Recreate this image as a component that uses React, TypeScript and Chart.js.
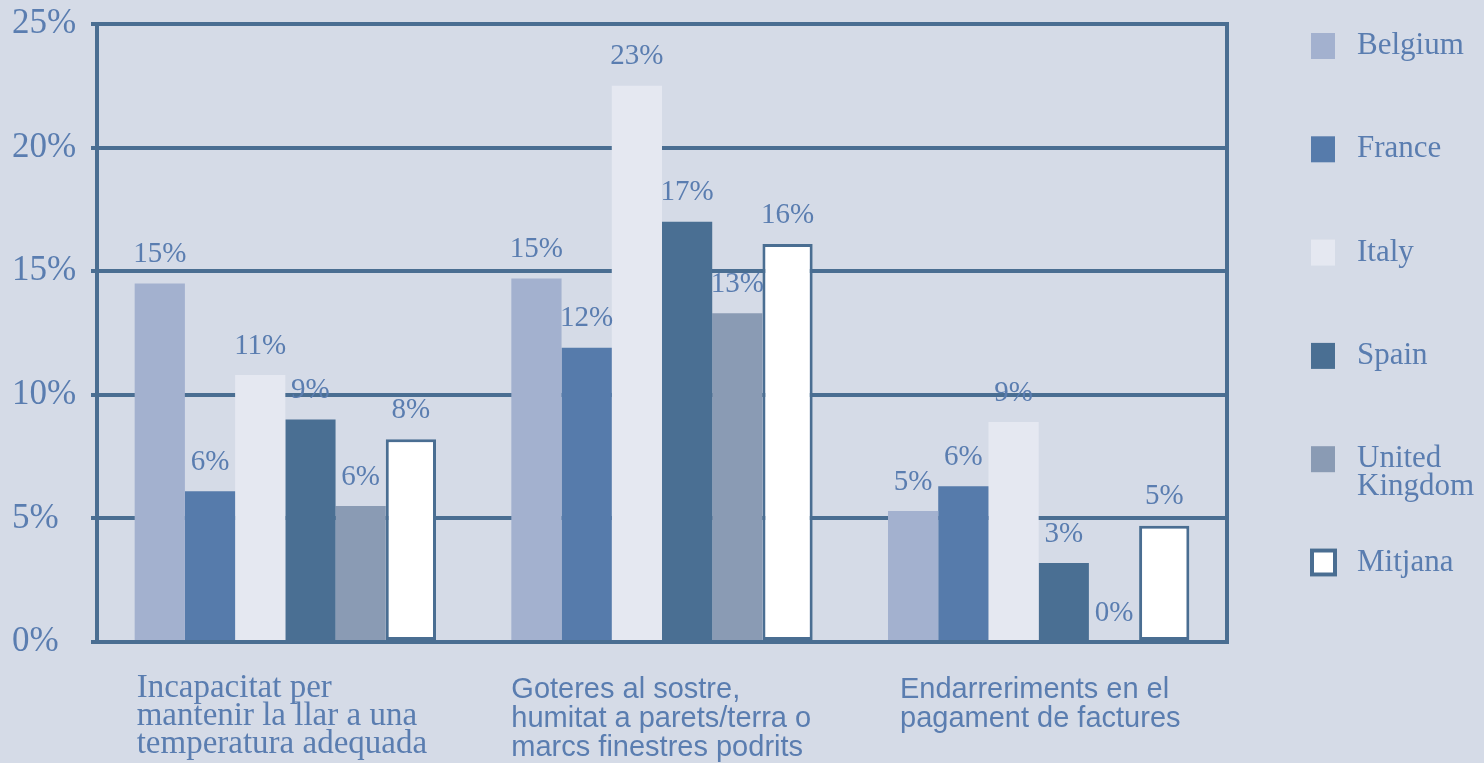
import React, { useEffect, useRef } from "react";
import { Chart, registerables } from "chart.js";

Chart.register(...registerables);

const categories: string[][] = [
  ["Incapacitat per", "mantenir la llar a una", "temperatura adequada"],
  ["Goteres al sostre,", "humitat a parets/terra o", "marcs finestres podrits"],
  ["Endarreriments en el", "pagament de factures"],
];
const seriesNames = ["Belgium", "France", "Italy", "Spain", "United Kingdom", "Mitjana"];
const belgium = [14.5, 14.7, 5.3];
const france = [6.1, 11.9, 6.3];
const italy = [10.8, 22.5, 8.9];
const spain = [9.0, 17.0, 3.2];
const unitedKingdom = [5.5, 13.3, 0];
const mitjana = [8.2, 16.1, 4.7];
const yTicks = [0, 5, 10, 15, 20, 25];

const BG = "#d5dbe7";
const FRAME = "#4a6e92";
const TEXT = "#5a7db0";
const COLORS = ["#a3b1cf", "#567bab", "#e5e8f1", "#4a6f93", "#8a9bb4", "#ffffff"];
const SERIF = "'Liberation Serif', 'Times New Roman', serif";
const SANS = "'Liberation Sans', Arial, sans-serif";
const CAT_FONTS = [SERIF, SANS, SANS];
const CAT_DX = [2, 0, 12];

const framePlugin = {
  id: "frame",
  beforeDatasetsDraw(chart: any) {
    const { ctx, chartArea } = chart;
    ctx.save();
    ctx.strokeStyle = FRAME;
    ctx.lineWidth = 4;
    ctx.strokeRect(chartArea.left, chartArea.top, chartArea.right - chartArea.left, chartArea.bottom - chartArea.top);
    ctx.restore();
  },
};

const labelsPlugin = {
  id: "labels",
  afterDatasetsDraw(chart: any) {
    const { ctx } = chart;
    ctx.save();
    ctx.fillStyle = TEXT;
    ctx.textAlign = "center";
    ctx.textBaseline = "middle";
    ctx.font = `29px ${SERIF}`;
    chart.data.datasets.forEach((ds: any, di: number) => {
      const meta = chart.getDatasetMeta(di);
      meta.data.forEach((el: any, i: number) => {
        const v = ds.data[i];
        ctx.fillText(`${Math.round(v)}%`, el.x, el.y - 29);
      });
    });
    // category labels
    const meta0 = chart.getDatasetMeta(0);
    categories.forEach((lines, i) => {
      const el: any = meta0.data[i];
      const x = el.x - el.width / 2 + CAT_DX[i];
      const serif = CAT_FONTS[i] === SERIF;
      ctx.font = serif ? `33px ${SERIF}` : `29px ${SANS}`;
      ctx.textAlign = "left";
      lines.forEach((ln, j) => {
        ctx.fillText(ln, x, (serif ? 688 : 690) + j * (serif ? 28 : 29));
      });
    });
    // legend
    ctx.font = `31px ${SERIF}`;
    chart.data.datasets.forEach((ds: any, di: number) => {
      const cy = 46 + di * 103.3;
      if (di === chart.data.datasets.length - 1) {
        ctx.fillStyle = "#ffffff";
        ctx.fillRect(1310, cy - 14, 27, 28);
        ctx.strokeStyle = FRAME;
        ctx.lineWidth = 4;
        ctx.strokeRect(1312, cy - 12, 23, 24);
      } else {
        ctx.fillStyle = ds.backgroundColor;
        ctx.fillRect(1311, cy - 13, 24, 26);
      }
      ctx.fillStyle = TEXT;
      const parts = String(ds.label).split(" ");
      parts.forEach((p, k) => ctx.fillText(p, 1357, cy + k * 28));
    });
    ctx.restore();
  },
};

export default function App() {
  const ref = useRef<HTMLCanvasElement>(null);
  useEffect(() => {
    const data = [belgium, france, italy, spain, unitedKingdom, mitjana];
    const chart = new Chart(ref.current!, {
      type: "bar",
      data: {
        labels: categories.map((c) => c.join(" ")),
        datasets: seriesNames.map((name, i) => ({
          label: name,
          data: data[i],
          backgroundColor: COLORS[i],
          borderColor: FRAME,
          borderWidth: i === 5 ? 3 : 0,
          borderSkipped: false,
          categoryPercentage: 0.8,
          barPercentage: 1.0,
        })),
      },
      options: {
        responsive: false,
        animation: false,
        devicePixelRatio: 1,
        layout: { padding: { left: 12, top: 23, right: 257, bottom: 121 } },
        plugins: { legend: { display: false }, tooltip: { enabled: false } },
        scales: {
          x: { display: false },
          y: {
            min: 0,
            max: 25,
            afterFit(scale: any) {
              scale.width = 85;
            },
            afterBuildTicks(scale: any) {
              scale.ticks = yTicks.map((v) => ({ value: v }));
            },
            ticks: {
              callback: (v: any) => `${v}%`,
              font: { family: SERIF, size: 35 },
              color: TEXT,
              crossAlign: "far",
            },
            grid: { color: FRAME, lineWidth: 4, tickLength: 6 },
            border: { display: false },
          },
        },
      },
      plugins: [framePlugin, labelsPlugin],
    });
    return () => chart.destroy();
  }, []);
  return (
    <div style={{ position: "absolute", left: 0, top: 0, width: 1484, height: 763, background: BG }}>
      <canvas ref={ref} width={1484} height={763} style={{ display: "block" }} />
    </div>
  );
}
